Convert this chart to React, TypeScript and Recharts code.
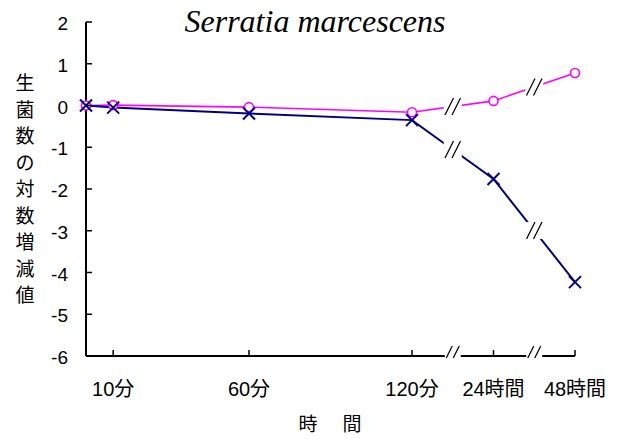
import { LineChart, Line, XAxis, YAxis, ReferenceDot } from "recharts";

// ---------------------------------------------------------------------------
// Data
// ---------------------------------------------------------------------------

// x positions on a compressed axis (axis is broken after 120分 and after 24時間)
const timePositions = [0, 10, 60, 120, 150, 180];
const timeLabels = ["0", "10分", "60分", "120分", "24時間", "48時間"];
const seriesCircle = [0, 0.01, -0.04, -0.16, 0.11, 0.78];
const seriesCross = [0, -0.05, -0.19, -0.35, -1.76, -4.23];
const breakAfterIndex = [3, 4];
const yTicks = [-6, -5, -4, -3, -2, -1, 0, 1, 2];

const MAGENTA = "#ff00ff";
const NAVY = "#000080";
const FONT = "'Liberation Sans', Arial, 'Noto Sans CJK JP', sans-serif";
const CJK = "'Noto Sans CJK JP', 'Liberation Sans', sans-serif";

const data = timePositions.map((pos, i) => ({
  pos,
  circle: seriesCircle[i],
  cross: seriesCross[i],
}));

const breaks = breakAfterIndex.map((i) => ({
  x: (timePositions[i] + timePositions[i + 1]) / 2,
  circle: (seriesCircle[i] + seriesCircle[i + 1]) / 2,
  cross: (seriesCross[i] + seriesCross[i + 1]) / 2,
}));

// ---------------------------------------------------------------------------
// Shapes
// ---------------------------------------------------------------------------

function breakShape(halfH: number, gap: number, lift = 0) {
  return (props: any) => {
    const { cx, cy } = props;
    const y0 = cy - lift;
    const dx = halfH / 2;
    return (
      <g>
        <rect x={cx - gap} y={y0 - halfH} width={gap * 2} height={halfH * 2} fill="#fff" />
        <line x1={cx - 3.5 - dx} y1={y0 + halfH} x2={cx - 3.5 + dx} y2={y0 - halfH} stroke="#000" strokeWidth={1.3} />
        <line x1={cx + 3.5 - dx} y1={y0 + halfH} x2={cx + 3.5 + dx} y2={y0 - halfH} stroke="#000" strokeWidth={1.3} />
      </g>
    );
  };
}

function CircleDot(props: any) {
  const { cx, cy, index } = props;
  return <circle key={`c-${index}`} cx={cx} cy={cy} r={4.5} fill="#fff" stroke={MAGENTA} strokeWidth={1.6} />;
}

function CrossDot(props: any) {
  const { cx, cy, index } = props;
  const s = 6;
  return (
    <path
      key={`x-${index}`}
      d={`M${cx - s},${cy - s}L${cx + s},${cy + s}M${cx - s},${cy + s}L${cx + s},${cy - s}`}
      stroke={NAVY}
      strokeWidth={2}
      fill="none"
    />
  );
}

function XTick(props: any) {
  const { x, y, payload } = props;
  const idx = timePositions.indexOf(payload.value);
  return (
    <g>
      <line x1={x} y1={y} x2={x} y2={y - 6} stroke="#000" strokeWidth={1.5} />
      <text x={x} y={y + 40} textAnchor="middle" fontSize={20} fontFamily={FONT} fill="#000">
        {timeLabels[idx]}
      </text>
    </g>
  );
}

function YTick(props: any) {
  const { x, y, payload } = props;
  return (
    <g>
      <line x1={x} y1={y} x2={x + 6} y2={y} stroke="#000" strokeWidth={1.5} />
      <text x={x - 18} y={y + 8} textAnchor="end" fontSize={19} fontFamily={FONT} fill="#000">
        {payload.value}
      </text>
    </g>
  );
}

const yTitleChars = "生菌数の対数増減値".split("");

// ---------------------------------------------------------------------------
// Chart
// ---------------------------------------------------------------------------

export default function App() {
  return (
    <div style={{ position: "absolute", left: 0, top: 0, width: 624, height: 439, background: "#fff" }}>
      <LineChart width={624} height={439} data={data} margin={{ top: 22, right: 49, bottom: 0, left: 0 }}>
        <XAxis
          type="number"
          dataKey="pos"
          domain={[0, 180]}
          ticks={timePositions.slice(1)}
          height={83}
          tickSize={0}
          tickMargin={0}
          tickLine={false}
          tick={<XTick />}
          axisLine={{ stroke: "#000", strokeWidth: 2 }}
        />
        <YAxis
          type="number"
          domain={[-6, 2]}
          ticks={yTicks}
          width={86}
          tickSize={0}
          tickMargin={0}
          tickLine={false}
          tick={<YTick />}
          axisLine={{ stroke: "#000", strokeWidth: 2 }}
          interval={0}
        />
        <Line
          dataKey="circle"
          stroke={MAGENTA}
          strokeWidth={1.6}
          dot={CircleDot}
          activeDot={false}
          isAnimationActive={false}
        />
        <Line
          dataKey="cross"
          stroke={NAVY}
          strokeWidth={2}
          dot={CrossDot}
          activeDot={false}
          isAnimationActive={false}
        />
        {breaks.map((b, i) => (
          <ReferenceDot key={`bc-${i}`} x={b.x} y={b.circle} ifOverflow="visible" shape={breakShape(8.5, 9)} />
        ))}
        {breaks.map((b, i) => (
          <ReferenceDot key={`bx-${i}`} x={b.x} y={b.cross} ifOverflow="visible" shape={breakShape(8.5, 9)} />
        ))}
        {breaks.map((b, i) => (
          <ReferenceDot key={`ba-${i}`} x={b.x} y={-6} ifOverflow="visible" shape={breakShape(6, 8, 4)} />
        ))}
        <text
          x={315}
          y={32}
          textAnchor="middle"
          fontSize={32}
          fontStyle="italic"
          fontFamily="'Liberation Serif', 'Times New Roman', serif"
          fill="#000"
        >
          Serratia marcescens
        </text>
        {yTitleChars.map((ch, i) => (
          <text key={`yt-${i}`} x={25} y={90 + i * 26.5} textAnchor="middle" fontSize={19} fontFamily={CJK} fill="#000">
            {ch}
          </text>
        ))}
        <text x={330} y={431} textAnchor="middle" fontSize={19} fontFamily={CJK} fill="#000">
          <tspan x={308}>時</tspan>
          <tspan x={352}>間</tspan>
        </text>
      </LineChart>
    </div>
  );
}
